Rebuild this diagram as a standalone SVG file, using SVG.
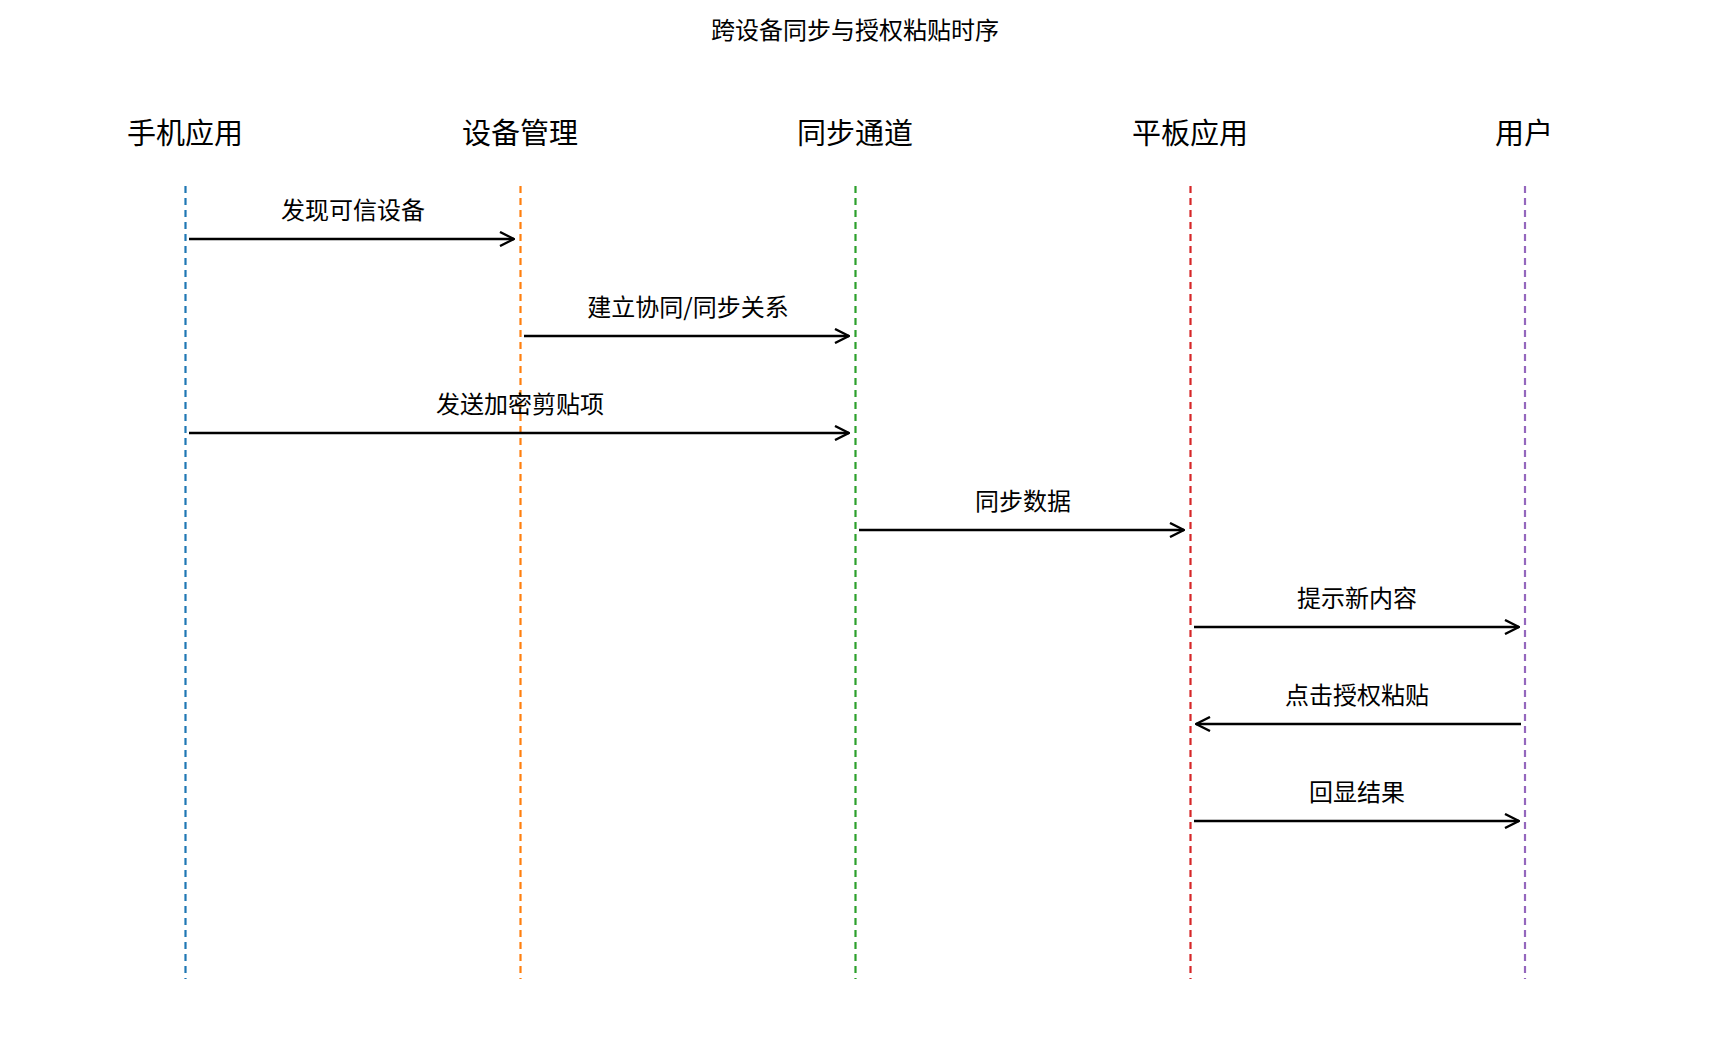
<svg xmlns="http://www.w3.org/2000/svg" width="1710" height="1061" viewBox="0 0 1710 1061">
<style>
text{font-family:"Noto Sans CJK SC","Noto Sans",sans-serif;fill:#000;text-anchor:middle;dominant-baseline:central}
.h{font-size:29px}.m{font-size:24px}.t{font-size:24px}
.life{stroke-width:2.2;stroke-dasharray:7,5;fill:none}
.msg{stroke:#000;stroke-width:2.4;fill:none;marker-end:url(#a)}
</style>
<defs><marker id="a" viewBox="0 0 16 16" refX="15" refY="8" markerWidth="16" markerHeight="16" markerUnits="userSpaceOnUse" orient="auto"><path d="M1,1 L15,8 L1,15" fill="none" stroke="#000" stroke-width="2.4"/></marker></defs>
<rect width="1710" height="1061" fill="#fff"/>
<text class="t" x="855" y="28">跨设备同步与授权粘贴时序</text>
<g id="phone"><text class="h" x="185" y="131">手机应用</text><line class="life" stroke="#1f77b4" x1="185.5" y1="186" x2="185.5" y2="979"/></g>
<g id="devmgr"><text class="h" x="520" y="131">设备管理</text><line class="life" stroke="#ff7f0e" x1="520.5" y1="186" x2="520.5" y2="979"/></g>
<g id="channel"><text class="h" x="855" y="131">同步通道</text><line class="life" stroke="#2ca02c" x1="855.5" y1="186" x2="855.5" y2="979"/></g>
<g id="tablet"><text class="h" x="1190" y="131">平板应用</text><line class="life" stroke="#d62728" x1="1190.5" y1="186" x2="1190.5" y2="979"/></g>
<g id="user"><text class="h" x="1524" y="131">用户</text><line class="life" stroke="#9467bd" x1="1525" y1="186" x2="1525" y2="979"/></g>
<g id="connectors">
<line class="msg" x1="189" y1="239" x2="514" y2="239"/><text class="m" x="353" y="208">发现可信设备</text>
<line class="msg" x1="524" y1="336" x2="849" y2="336"/><text class="m" x="688" y="305">建立协同/同步关系</text>
<line class="msg" x1="189" y1="433" x2="849" y2="433"/><text class="m" x="520" y="402">发送加密剪贴项</text>
<line class="msg" x1="859" y1="530" x2="1184" y2="530"/><text class="m" x="1023" y="499">同步数据</text>
<line class="msg" x1="1194" y1="627" x2="1519" y2="627"/><text class="m" x="1357" y="596">提示新内容</text>
<line class="msg" x1="1521" y1="724" x2="1196" y2="724"/><text class="m" x="1357" y="693">点击授权粘贴</text>
<line class="msg" x1="1194" y1="821" x2="1519" y2="821"/><text class="m" x="1357" y="790">回显结果</text>
</g>
</svg>
